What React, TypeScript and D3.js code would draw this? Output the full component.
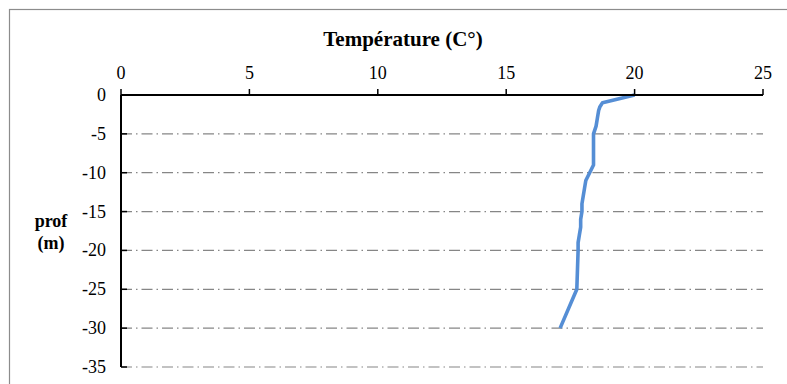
import React from "react";
import * as d3 from "d3";

const depths = [0, -1, -1.5, -2, -3, -4, -5, -6, -7, -8, -9, -10, -11, -12, -13, -14, -15, -16, -17, -18, -19, -20, -25, -30];
const temps = [20, 18.75, 18.65, 18.6, 18.55, 18.5, 18.4, 18.4, 18.4, 18.4, 18.4, 18.25, 18.1, 18.05, 18.0, 17.95, 17.95, 17.9, 17.9, 17.85, 17.8, 17.8, 17.75, 17.1];
const xTicks = [0, 5, 10, 15, 20, 25];
const yTicks = [0, -5, -10, -15, -20, -25, -30, -35];
const xTitle = "Température (C°)";
const yTitle = ["prof", "(m)"];

export default function App() {
  const W = 787, H = 384;
  const x = d3.scaleLinear().domain([0, 25]).range([121, 763]);
  const y = d3.scaleLinear().domain([0, -35]).range([95, 367]);
  const pts = depths.map((d, i) => [temps[i], d] as [number, number]);
  const line = d3.line<[number, number]>().x(p => x(p[0])).y(p => y(p[1]));
  const font = "Liberation Serif, DejaVu Serif, serif";
  return (
    <svg width={W} height={H} style={{ position: "absolute", left: 0, top: 0, background: "#fff" }}>
      <rect x={9.5} y={9.5} width={800} height={400} fill="#fff" stroke="#8c8c8c" strokeWidth={1.2} />
      {yTicks.filter(t => t !== 0).map(t => (
        <line key={"g" + t} x1={x(0)} x2={x(25)} y1={y(t)} y2={y(t)} stroke="#868686" strokeWidth={1.2} strokeDasharray="11 4 1.5 4" />
      ))}
      <path d={line(pts) || ""} fill="none" stroke="#558ED5" strokeWidth={3.6} strokeLinejoin="round" />
      <line x1={x(0)} x2={x(25)} y1={y(0)} y2={y(0)} stroke="#000" strokeWidth={2} />
      <line x1={x(0)} x2={x(0)} y1={y(0)} y2={y(-35)} stroke="#000" strokeWidth={2} />
      {xTicks.map(t => (
        <g key={"x" + t}>
          <line x1={x(t)} x2={x(t)} y1={y(0)} y2={y(0) - 6} stroke="#000" strokeWidth={1.5} />
          <text x={x(t)} y={79} textAnchor="middle" fontFamily={font} fontSize={18} fill="#000">{t}</text>
        </g>
      ))}
      {yTicks.map(t => (
        <g key={"y" + t}>
          <line x1={x(0)} x2={x(0) + 6} y1={y(t)} y2={y(t)} stroke="#000" strokeWidth={1.5} />
          <text x={106} y={y(t) + 6} textAnchor="end" fontFamily={font} fontSize={18} fill="#000">{t}</text>
        </g>
      ))}
      <text x={403} y={46} textAnchor="middle" fontFamily={font} fontSize={21} fontWeight="bold" fill="#000">{xTitle}</text>
      <text x={51} y={227} textAnchor="middle" fontFamily={font} fontSize={18} fontWeight="bold" fill="#000">{yTitle[0]}</text>
      <text x={51} y={249} textAnchor="middle" fontFamily={font} fontSize={18} fontWeight="bold" fill="#000">{yTitle[1]}</text>
    </svg>
  );
}
